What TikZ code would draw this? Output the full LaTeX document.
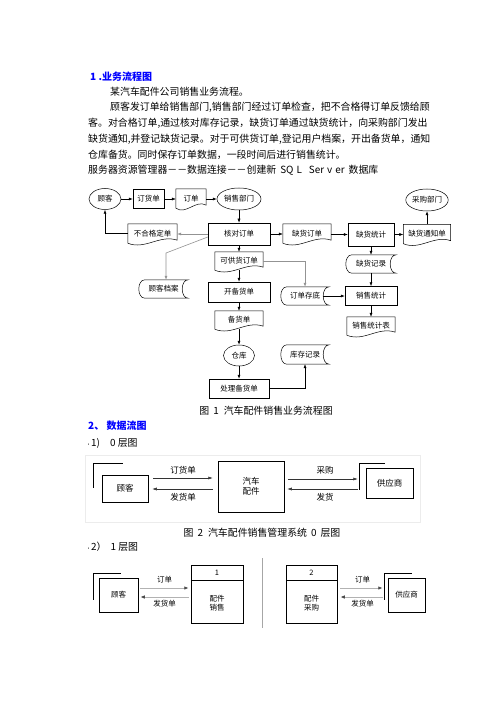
\documentclass[tikz,border=0pt]{standalone}
\usepackage{fontspec}
\setmainfont{Noto Sans CJK SC}
\usetikzlibrary{arrows.meta,calc,shapes.geometric}
\newcommand\docout[1]{%
  \draw[line width=0.5pt] (#1.south west) -- (#1.north west) -- (#1.north east) -- ($(#1.south east)+(0,-3)$)
   .. controls ($(#1.south east)!0.35!(#1.south west)+(0,-9)$) and ($(#1.south east)!0.65!(#1.south west)+(0,7)$) .. (#1.south west);}
\newcommand\stout[1]{%
  \draw[line width=0.5pt] ($(#1.north west)+(6,0)$) -- (#1.north east)
   .. controls ($(#1.north east)+(-8,0)$) and ($(#1.south east)+(-8,0)$) .. (#1.south east)
   -- ($(#1.south west)+(6,0)$)
   .. controls ($(#1.south west)+(-2,0)$) and ($(#1.north west)+(-2,0)$) .. cycle;}
\begin{document}
\begin{tikzpicture}[x=1pt,y=-1pt,
  every node/.style={inner sep=0pt, font=\fontsize{7.5}{9}\selectfont},
  ell/.style={draw, ellipse, line width=0.5pt},
  rbox/.style={draw, rectangle, line width=0.5pt},
  txt/.style={anchor=west, font=\fontsize{9.9}{12}\selectfont},
  head/.style={anchor=west, font=\fontsize{10}{12}\selectfont\bfseries, text=blue},
  captxt/.style={font=\fontsize{9.9}{12}\selectfont},
  arr/.style={draw, line width=0.5pt, -{Latex[length=4pt,width=3pt]}},
  garr/.style={arr, draw=gray!85, line width=0.6pt},
  arrz/.style={draw=black!80, line width=0.5pt, -{Latex[length=4.5pt,width=3pt]}},
  arro/.style={draw=gray!60, line width=1pt, -{Latex[length=4.5pt,width=3.5pt,black!70]}},
  lab0/.style={font=\fontsize{8.5}{10}\selectfont},
  lab1/.style={font=\fontsize{7.5}{9}\selectfont}
]
\fill[white] (0,0) rectangle (502,708);
\useasboundingbox (0,0) rectangle (502,708);

% ---------- text block ----------
\node[head] (h1) at (90,77) {1 .业务流程图};
\node[txt] (t1) at (110,92) {某汽车配件公司销售业务流程。};
\node[txt] (t2) at (110,107.5) {顾客发订单给销售部门,销售部门经过订单检查，把不合格得订单反馈给顾};
\node[txt] (t3) at (88,123) {客。对合格订单,通过核对库存记录，缺货订单通过缺货统计，向采购部门发出};
\node[txt] (t4) at (88,139) {缺货通知,并登记缺货记录。对于可供货订单,登记用户档案，开出备货单，通知};
\node[txt] (t5) at (88,155) {仓库备货。同时保存订单数据，一段时间后进行销售统计。};
\node[txt] (t6) at (88,170) {服务器资源管理器－－数据连接－－创建新\hspace{4pt}SQ\hspace{3pt}L\hspace{7pt}Ser\hspace{3pt}v\hspace{3pt}er\hspace{4pt}数据库};

% ---------- flowchart ----------
\node[ell, minimum width=32pt, minimum height=21pt] (gk) at (105,199) {顾客};
\node[rbox, minimum width=31pt, minimum height=19pt] (dhd) at (148.5,199) {订货单};
\node[minimum width=30pt, minimum height=19pt] (dd) at (191,198.5) {订单}; \docout{dd}
\node[ell, minimum width=44pt, minimum height=22pt] (xsbm) at (239,199) {销售部门};
\node[ell, minimum width=41pt, minimum height=22pt] (cgbm) at (427,200) {采购部门};

\node[minimum width=49pt, minimum height=19pt] (bhg) at (152.5,233.5) {不合格定单}; \docout{bhg}
\node[rbox, minimum width=62pt, minimum height=22pt] (hd) at (239,234) {核对订单};
\node[minimum width=48pt, minimum height=19pt] (qhdd) at (307,233.5) {缺货订单}; \docout{qhdd}
\node[rbox, minimum width=46pt, minimum height=23pt] (qhtj) at (371,234.5) {缺货统计};
\node[minimum width=47pt, minimum height=19pt] (qhtzd) at (427,234) {缺货通知单}; \docout{qhtzd}

\node[minimum width=48pt, minimum height=18pt] (kghdd) at (239,261) {可供货订单}; \docout{kghdd}
\node[minimum width=50pt, minimum height=18pt] (qhjl) at (371,264) {缺货记录}; \stout{qhjl}

\node[minimum width=49pt, minimum height=18pt] (gkda) at (163.5,289) {顾客档案}; \stout{gkda}
\node[rbox, minimum width=62pt, minimum height=20pt] (kbhd) at (239,292) {开备货单};
\node[minimum width=48pt, minimum height=18pt] (ddcd) at (305,296) {订单存底}; \stout{ddcd}
\node[rbox, minimum width=52pt, minimum height=19pt] (xstj) at (371,296) {销售统计};

\node[minimum width=48pt, minimum height=18pt] (bhd) at (239,320) {备货单}; \docout{bhd}
\node[minimum width=48pt, minimum height=18pt] (xstjb) at (371,326) {销售统计表}; \docout{xstjb}

\node[ell, minimum width=31pt, minimum height=21pt] (ck) at (239,355.5) {仓库};
\node[minimum width=48pt, minimum height=19pt] (kcjl) at (305,354.5) {库存记录}; \stout{kcjl}

\node[rbox, minimum width=60pt, minimum height=19pt] (clbhd) at (239,388.5) {处理备货单};

\coordinate (dg) at (166,253);

\draw[arr] (gk.east) -- (dhd.west);
\draw[arr] (dhd.east) -- (dhd.east -| dd.west);
\draw[arr] (dd.east |- xsbm.west) -- (xsbm.west);
\draw[arr] (xsbm) -- (hd);
\draw[garr] (hd.west) -- (bhg.east |- hd.west);
\draw[arr] (bhg.west) -| (gk.south);
\draw[garr] ([shift={(0,3)}]hd.west) -- (dg) -- (dg |- gkda.north);
\draw[arr] (hd.east) -- (qhdd.west |- hd.east);
\draw[arr] (qhdd.east |- qhtj.west) -- (qhtj.west);
\draw[arr] (qhtj.east) -- (qhtzd.west |- qhtj.east);
\draw[arr] (qhtzd) -- (cgbm);
\draw[arr] (qhtj) -- (qhjl);
\draw[arr] (qhjl) -- (xstj);
\draw[arr] (xstj) -- (xstjb);
\draw[arr] (hd) -- (kghdd);
\draw[arr] (kghdd) -- (kbhd);
\draw[arr] (kbhd) -- (bhd);
\draw[arr] (bhd) -- (ck);
\draw[arr] (ck) -- (clbhd);
\draw[garr] (kghdd.east) -| (ddcd.north);
\draw[arr] ([shift={(-6,0)}]ddcd.east) -- (xstj.west);
\draw[arr] (clbhd.east) -| (kcjl.south);

\node[captxt] (c1) at (266,411) {图\hspace{4pt}1\hspace{5pt}汽车配件销售业务流程图};

% ---------- DFD 0 ----------
\node[head] (h2) at (88,426) {2、\ 数据流图};
\node[txt] (s1) at (86,443) {{\fontsize{5}{6}\selectfont •}1)\hspace{10pt}0 层图};

\draw[gray!15, line width=0.6pt] (85,455) rectangle (420,522);
\node[rbox, minimum width=46pt, minimum height=27pt, lab0] (gk0) at (125,488.5) {顾客};
\draw[line width=0.5pt] ($(gk0.north west)+(-9,13)$) -- ++(0,-25) -- ++(30,0);
\node[rbox, minimum width=66pt, minimum height=51pt, lab0, align=center] (qcpj) at (251,486.5) {汽车\\配件};
\node[rbox, minimum width=47pt, minimum height=30pt, lab0] (gys0) at (389.5,483) {供应商};
\draw[line width=0.5pt] ($(gys0.north west)+(-7,22)$) -- ++(0,-27) -- ++(26,0);

\draw[arrz, shorten <=5pt, shorten >=5pt] (gk0.east |- 0,478) -- (qcpj.west |- 0,478)
  node[midway, shift={(0,-8)}, lab0] {订货单};
\draw[arrz, shorten <=5pt, shorten >=4pt] (qcpj.west |- 0,489) -- (gk0.east |- 0,489)
  node[midway, shift={(0,8)}, lab0] {发货单};
\draw[arrz, shorten <=4pt, shorten >=8pt] (qcpj.east |- 0,479) -- (gys0.west |- 0,479)
  node[midway, shift={(0,-9)}, lab0] {采购};
\draw[arrz, shorten <=8pt, shorten >=3pt] (gys0.west |- 0,489) -- (qcpj.east |- 0,489)
  node[midway, shift={(0,8)}, lab0] {发货};

\node[captxt] (c2) at (262,533) {图\hspace{4pt}2\hspace{5pt}汽车配件销售管理系统\hspace{4pt}0\hspace{4pt}层图};

% ---------- DFD 1 ----------
\node[txt] (s2) at (86,547) {{\fontsize{5}{6}\selectfont •}2）\hspace{4pt}1 层图};

\node[rbox, minimum width=39pt, minimum height=34pt, lab1] (gk1) at (118.5,595) {顾客};
\draw[line width=0.5pt] ($(gk1.north west)+(-6,22)$) -- ++(0,-27) -- ++(28,0);

\node[rbox, minimum width=52pt, minimum height=58pt] (p1) at (217,594) {};
\draw[line width=0.5pt] (p1.west |- 0,580) -- (p1.east |- 0,580);
\node[lab1] (p1n) at (217,572.5) {1};
\node[lab1, align=center] (p1t) at (217,603) {配件\\销售};

\draw[gray!70, line width=0.8pt] (262,558) -- (262,628);

\node[rbox, minimum width=51pt, minimum height=58pt] (p2) at (311.5,594) {};
\draw[line width=0.5pt] (p2.west |- 0,580) -- (p2.east |- 0,580);
\node[lab1] (p2n) at (311.5,572.5) {2};
\node[lab1, align=center] (p2t) at (311.5,603) {配件\\采购};

\node[rbox, minimum width=37pt, minimum height=34pt, lab1] (gys1) at (406.5,595) {供应商};
\draw[line width=0.5pt] ($(gys1.north west)+(-4,22)$) -- ++(0,-27) -- ++(28,0);

\draw[arro, shorten <=2pt, shorten >=2pt] (gk1.east |- 0,588) -- (p1.west |- 0,588)
  node[midway, shift={(0,-8)}, lab1, text=black] {订单};
\draw[arro, shorten <=2pt, shorten >=2pt] (p1.west |- 0,597) -- (gk1.east |- 0,597)
  node[midway, shift={(0,7)}, lab1, text=black] {发货单};
\draw[arro, shorten <=3pt, shorten >=5pt] (p2.east |- 0,588) -- (gys1.west |- 0,588)
  node[midway, shift={(0,-8)}, lab1, text=black] {订单};
\draw[arro, shorten <=5pt, shorten >=3pt] (gys1.west |- 0,597) -- (p2.east |- 0,597)
  node[midway, shift={(0,7)}, lab1, text=black] {发货单};
\end{tikzpicture}
\end{document}
